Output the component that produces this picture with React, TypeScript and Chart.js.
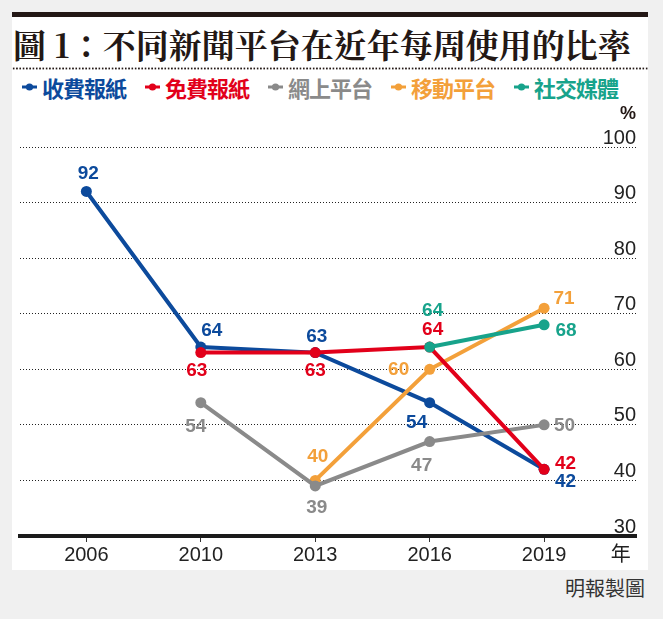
import React, { useEffect, useRef } from 'react';
import { Chart, registerables } from 'chart.js';

Chart.register(...registerables);

// ---------- data ----------
const YEARS = ['2006', '2010', '2013', '2016', '2019'];
const YEAR_UNIT = '年';
const VALUE_UNIT = '%';
const SERIES_NAMES = ['收費報紙', '免費報紙', '網上平台', '移動平台', '社交媒體'];
const PAID_PAPERS = [92, 64, 63, 54, 42];
const FREE_PAPERS = [null, 63, 63, 64, 42];
const ONLINE_PLATFORMS = [null, 54, 39, 47, 50];
const MOBILE_PLATFORMS = [null, null, 40, 60, 71];
const SOCIAL_MEDIA = [null, null, null, 64, 68];
const Y_MIN = 30;
const Y_MAX = 100;
const Y_STEP = 10;

const TITLE = '圖 1：不同新聞平台在近年每周使用的比率';
const SOURCE = '明報製圖';

// ---------- styles ----------
const COLORS = ['#0c4a9c', '#e2001a', '#8a8a8a', '#f3a03a', '#17a38b'];
const DRAW_ORDER = [5, 2, 3, 4, 1];
// value-label offsets (px) from each point
const LABEL_OFFSETS: number[][][] = [
  [[2, -18], [11, -16], [1.5, -16], [-13, 20.5], [21.5, 12]],
  [[0, 0], [-4, 18.5], [0, 18.5], [3, -17], [21.5, -6]],
  [[0, 0], [-5, 24.5], [1.5, 22], [-8, 24.5], [20.5, 1]],
  [[0, 0], [0, 0], [2.5, -24], [-31, 0], [20, -9]],
  [[0, 0], [0, 0], [0, 0], [3, -36.5], [22, 5.5]],
];
const SERIES_VALUES = [PAID_PAPERS, FREE_PAPERS, ONLINE_PLATFORMS, MOBILE_PLATFORMS, SOCIAL_MEDIA];

const NUM_FONT = '"Liberation Sans", Arial, "Noto Sans CJK TC", sans-serif';
const CJK_FONT = '"Noto Sans CJK TC", "Noto Sans CJK SC", sans-serif';
const INK = '#231815';

const valueLabels = {
  id: 'valueLabels',
  afterDatasetsDraw(chart: any) {
    const ctx = chart.ctx;
    ctx.save();
    ctx.font = 'bold 19px ' + NUM_FONT;
    ctx.textAlign = 'center';
    ctx.textBaseline = 'middle';
    SERIES_VALUES.forEach((vals, k) => {
      const meta = chart.getDatasetMeta(k);
      meta.data.forEach((pt: any, i: number) => {
        const v = vals[i];
        if (v == null) return;
        const [dx, dy] = LABEL_OFFSETS[k][i];
        ctx.fillStyle = COLORS[k];
        ctx.fillText(String(v), pt.x + dx, pt.y + dy);
      });
    });
    const y = chart.scales.y;
    ctx.fillStyle = INK;
    ctx.textAlign = 'right';
    ctx.font = 'bold 18px ' + NUM_FONT;
    ctx.fillText(VALUE_UNIT, y.right, y.getPixelForValue(Y_MAX) - 33);
    ctx.restore();
  },
};

function Marker({ color }: { color: string }) {
  return (
    <svg width="15" height="10" style={{ display: 'block', marginRight: 5 }}>
      <line x1="0" y1="5" x2="15" y2="5" stroke={color} strokeWidth="3" />
      <circle cx="7.5" cy="5" r="3.6" fill={color} />
    </svg>
  );
}

export default function App() {
  const ref = useRef<HTMLCanvasElement>(null);

  useEffect(() => {
    const canvas = ref.current!;
    const chart = new Chart(canvas, {
      type: 'line',
      data: {
        datasets: SERIES_VALUES.map((vals, k) => ({
          label: SERIES_NAMES[k],
          data: vals.map((v, i) => ({ x: i, y: v })),
          borderColor: COLORS[k],
          backgroundColor: COLORS[k],
          pointBackgroundColor: COLORS[k],
          pointBorderWidth: 0,
          pointRadius: 5.5,
          pointHoverRadius: 5.5,
          borderWidth: 4,
          tension: 0,
          order: DRAW_ORDER[k],
        })),
      },
      options: {
        animation: false,
        responsive: false,
        maintainAspectRatio: false,
        events: [],
        layout: { padding: { left: 8, right: 12, top: 47, bottom: 0 } },
        plugins: {
          legend: { display: false },
          tooltip: { enabled: false },
          title: { display: false },
        },
        scales: {
          x: {
            type: 'linear',
            position: 'bottom',
            bounds: 'data',
            min: -0.58,
            max: 4.803,
            afterBuildTicks: (s: any) => {
              s.ticks = [...YEARS.map((_, i) => ({ value: i })), { value: 4.669 }];
            },
            afterFit: (s: any) => {
              s.height = 34;
            },
            ticks: {
              autoSkip: false,
              maxRotation: 0,
              minRotation: 0,
              padding: 1,
              color: '#222',
              font: { family: NUM_FONT, size: 20 },
              callback: (_v: any, i: number) => (i < YEARS.length ? YEARS[i] : YEAR_UNIT),
            },
            grid: {
              drawOnChartArea: false,
              drawTicks: true,
              tickLength: 6,
              lineWidth: 1,
              color: (c: any) => (c.index >= YEARS.length ? 'rgba(0,0,0,0)' : '#333'),
            },
            border: { display: true, color: '#1b1b1b', width: 4 },
          },
          y: {
            type: 'linear',
            position: 'right',
            min: Y_MIN,
            max: Y_MAX,
            afterFit: (s: any) => {
              s.width = 0;
            },
            ticks: {
              stepSize: Y_STEP,
              mirror: true,
              padding: 0,
              labelOffset: -9,
              color: '#222',
              font: { family: NUM_FONT, size: 20 },
            },
            grid: { drawTicks: false, color: '#222', lineWidth: 1 },
            border: { display: false, dash: [1, 2] },
          },
        },
      },
      plugins: [valueLabels],
    } as any);
    return () => chart.destroy();
  }, []);

  return (
    <div
      style={{
        position: 'absolute',
        left: 0,
        top: 0,
        width: 663,
        height: 619,
        background: '#f0f0f0',
        overflow: 'hidden',
      }}
    >
      <div style={{ position: 'absolute', left: 12, top: 12, width: 636, height: 558, background: '#fff' }}>
        <div style={{ position: 'absolute', left: 0, top: 0, width: 636, height: 5, background: INK }} />
        <div
          style={{
            position: 'absolute',
            left: 1,
            top: 15,
            height: 33,
            lineHeight: '33px',
            fontSize: 33,
            fontFamily: '"Noto Serif CJK TC", ' + CJK_FONT,
            fontWeight: 700,
            color: INK,
            whiteSpace: 'nowrap',
          }}
        >
          {TITLE}
        </div>
        <div
          style={{
            position: 'absolute',
            left: 0,
            top: 54.5,
            width: 636,
            height: 3,
            backgroundImage: 'radial-gradient(circle, ' + INK + ' 0.9px, rgba(0,0,0,0) 1.2px)',
            backgroundSize: '3.3px 3px',
          }}
        />
        <div
          style={{
            position: 'absolute',
            left: 10,
            top: 63,
            height: 24,
            display: 'flex',
            alignItems: 'center',
            gap: 19,
          }}
        >
          {SERIES_NAMES.map((name, k) => (
            <div key={name} style={{ display: 'flex', alignItems: 'center' }}>
              <Marker color={COLORS[k]} />
              <span
                style={{
                  color: COLORS[k],
                  fontFamily: CJK_FONT,
                  fontWeight: 700,
                  fontSize: 22,
                  letterSpacing: -1,
                  lineHeight: '24px',
                  whiteSpace: 'nowrap',
                }}
              >
                {name}
              </span>
            </div>
          ))}
        </div>
        <canvas
          ref={ref}
          width={636}
          height={470}
          style={{ position: 'absolute', left: 0, top: 88, width: 636, height: 470 }}
        />
      </div>
      <div
        style={{
          position: 'absolute',
          right: 18,
          top: 576,
          height: 24,
          lineHeight: '24px',
          fontSize: 20,
          fontFamily: CJK_FONT,
          color: '#333',
          whiteSpace: 'nowrap',
        }}
      >
        {SOURCE}
      </div>
    </div>
  );
}
